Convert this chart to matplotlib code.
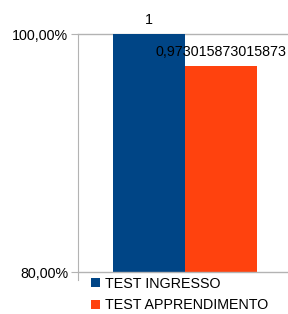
import matplotlib.pyplot as plt

plt.rcParams['font.family'] = ['Liberation Sans', 'DejaVu Sans']

series = ['TEST INGRESSO', 'TEST APPRENDIMENTO']
values = [1, 0.973015873015873]
labels = ['1', '0,973015873015873']
colors = ['#004586', '#ff420e']
yticks = [0.8, 1.0]
ytick_labels = ['80,00%', '100,00%']

fig = plt.figure(figsize=(2.88, 3.14), dpi=100)
ax = fig.add_axes([78 / 288, 42 / 314, 210 / 288, 238 / 314])

w = 0.35
xs = [-w / 2, w / 2]
for x, v, c, s, lab in zip(xs, values, colors, series, labels):
    ax.bar(x, v, width=w, color=c, label=s, zorder=2)
    ax.annotate(lab, (x, v), xytext=(0, 5), textcoords='offset points',
                ha='center', va='bottom', fontsize=10.3, color='#000000')

ax.set_ylim(0.8, 1.0)
ax.set_xlim(-0.52, 0.5)
ax.set_yticks(yticks)
ax.set_yticklabels(ytick_labels, fontsize=10.3)
ax.set_xticks([])
ax.axhline(1.0, color='#b3b3b3', lw=1, zorder=1, clip_on=False)
ax.axhline(0.8, color='#b3b3b3', lw=1, zorder=3, clip_on=False)
for s in ['top', 'right', 'bottom']:
    ax.spines[s].set_visible(False)
ax.spines['left'].set_color('#b3b3b3')
ax.spines['left'].set_bounds(0.7935, 1.0)
ax.tick_params(axis='y', length=5, color='#b3b3b3', pad=2)

fig.legend(loc='lower left', bbox_to_anchor=(84 / 288, -0.018), frameon=False,
           fontsize=10.3, handlelength=0.6, handleheight=0.6, handletextpad=0.4,
           labelspacing=0.55, borderaxespad=0.1)

fig.savefig('out.png', dpi=100)
